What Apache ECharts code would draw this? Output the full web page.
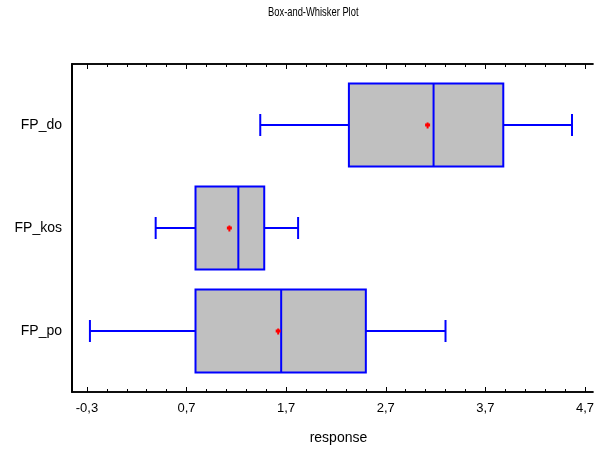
<!DOCTYPE html>
<html>
<head>
<meta charset="utf-8">
<script src="https://cdn.jsdelivr.net/npm/echarts@6/dist/echarts.min.js"></script>
<style>
  html, body { margin: 0; padding: 0; background: #fff; }
  #chart { width: 597px; height: 450px; }
</style>
</head>
<body>
<div id="chart"></div>
<script>
// 数据：从下到上
const categories = ["FP_po", "FP_kos", "FP_do"];
const lowValues = [-0.27, 0.39, 1.44];
const q1Values = [0.79, 0.79, 2.33];
const medianValues = [1.65, 1.22, 3.18];
const q3Values = [2.50, 1.48, 3.88];
const highValues = [3.30, 1.82, 4.57];
const meanValues = [1.62, 1.13, 3.12];

const majorTicks = [-0.3, 0.7, 1.7, 2.7, 3.7, 4.7];
const minorTicks = [-0.1, 0.1, 0.3, 0.5, 0.9, 1.1, 1.3, 1.5, 1.9, 2.1, 2.3, 2.5,
  2.9, 3.1, 3.3, 3.5, 3.9, 4.1, 4.3, 4.5];

const FONT = "'Liberation Sans', Arial, sans-serif";
const BLUE = "#0000ff";

const boxData = categories.map((c, i) => [
  i, lowValues[i], q1Values[i], medianValues[i], q3Values[i], highValues[i], meanValues[i]
]);

// 横轴（上下各两条：主刻度 + 次刻度）
const xAxisBase = (position, ticks, len, showLabel) => ({
  type: "value",
  position: position,
  min: -0.45,
  max: 4.78,
  axisLine: { show: true, onZero: false, lineStyle: { color: "#000", width: 1.5 } },
  axisTick: { show: true, inside: true, length: len, customValues: ticks, lineStyle: { color: "#000", width: 1 } },
  axisLabel: {
    show: showLabel,
    customValues: majorTicks,
    formatter: v => String(v).replace(".", ","),
    color: "#000",
    fontSize: 13,
    fontFamily: FONT,
    margin: 10
  },
  splitLine: { show: false }
});

const xMain = xAxisBase("bottom", majorTicks, 5, true);
xMain.name = "response";
xMain.nameLocation = "middle";
xMain.nameGap = 39;
xMain.nameTextStyle = { color: "#000", fontSize: 14, fontFamily: FONT, padding: [0, 0, 0, 12] };

const renderBox = (params, api) => {
  const y = api.coord([0, api.value(0)])[1];
  const px = v => api.coord([v, 0])[0];
  const xl = px(api.value(1)), x1 = px(api.value(2)), xm = px(api.value(3));
  const x3 = px(api.value(4)), xh = px(api.value(5)), xa = px(api.value(6));
  const boxH = 83, capH = 22;
  const line = { stroke: BLUE, lineWidth: 2 };
  return {
    type: "group",
    children: [
      { type: "line", shape: { x1: xl, y1: y, x2: x1, y2: y }, style: line },
      { type: "line", shape: { x1: x3, y1: y, x2: xh, y2: y }, style: line },
      { type: "line", shape: { x1: xl, y1: y - capH / 2, x2: xl, y2: y + capH / 2 }, style: line },
      { type: "line", shape: { x1: xh, y1: y - capH / 2, x2: xh, y2: y + capH / 2 }, style: line },
      { type: "rect", shape: { x: x1, y: y - boxH / 2, width: x3 - x1, height: boxH },
        style: { fill: "#c0c0c0", stroke: BLUE, lineWidth: 2 } },
      { type: "line", shape: { x1: xm, y1: y - boxH / 2, x2: xm, y2: y + boxH / 2 }, style: line },
      // 均值标记
      { type: "rect", shape: { x: xa - 2.5, y: y - 1.5, width: 5, height: 3 }, style: { fill: "#ff0000" } },
      { type: "rect", shape: { x: xa - 1, y: y - 2.5, width: 2, height: 6 }, style: { fill: "#ff0000" } }
    ]
  };
};

const myChart = echarts.init(document.getElementById("chart"));
const option = {
  animation: false,
  backgroundColor: "#fff",
  graphic: [
    {
      type: "text",
      left: 268,
      top: 6,
      scaleX: 0.72,
      style: { text: "Box-and-Whisker Plot", fill: "#000", fontSize: 13, fontFamily: FONT }
    }
  ],
  grid: { left: 72, right: 0, top: 64, bottom: 58 },
  xAxis: [
    xMain,
    xAxisBase("bottom", minorTicks, 3, false),
    xAxisBase("top", majorTicks, 5, false),
    xAxisBase("top", minorTicks, 3, false)
  ],
  yAxis: {
    type: "value",
    min: -0.592,
    max: 2.592,
    axisLine: { show: true, onZero: false, lineStyle: { color: "#000", width: 2 } },
    axisTick: { show: false },
    splitLine: { show: false },
    axisLabel: {
      customValues: [0, 1, 2],
      formatter: v => categories[Math.round(v)],
      color: "#000",
      fontSize: 14,
      fontFamily: FONT,
      margin: 10
    }
  },
  series: [
    {
      type: "custom",
      renderItem: renderBox,
      encode: { x: [1, 2, 3, 4, 5, 6], y: 0 },
      data: boxData
    }
  ]
};
option && myChart.setOption(option);
</script>
</body>
</html>
